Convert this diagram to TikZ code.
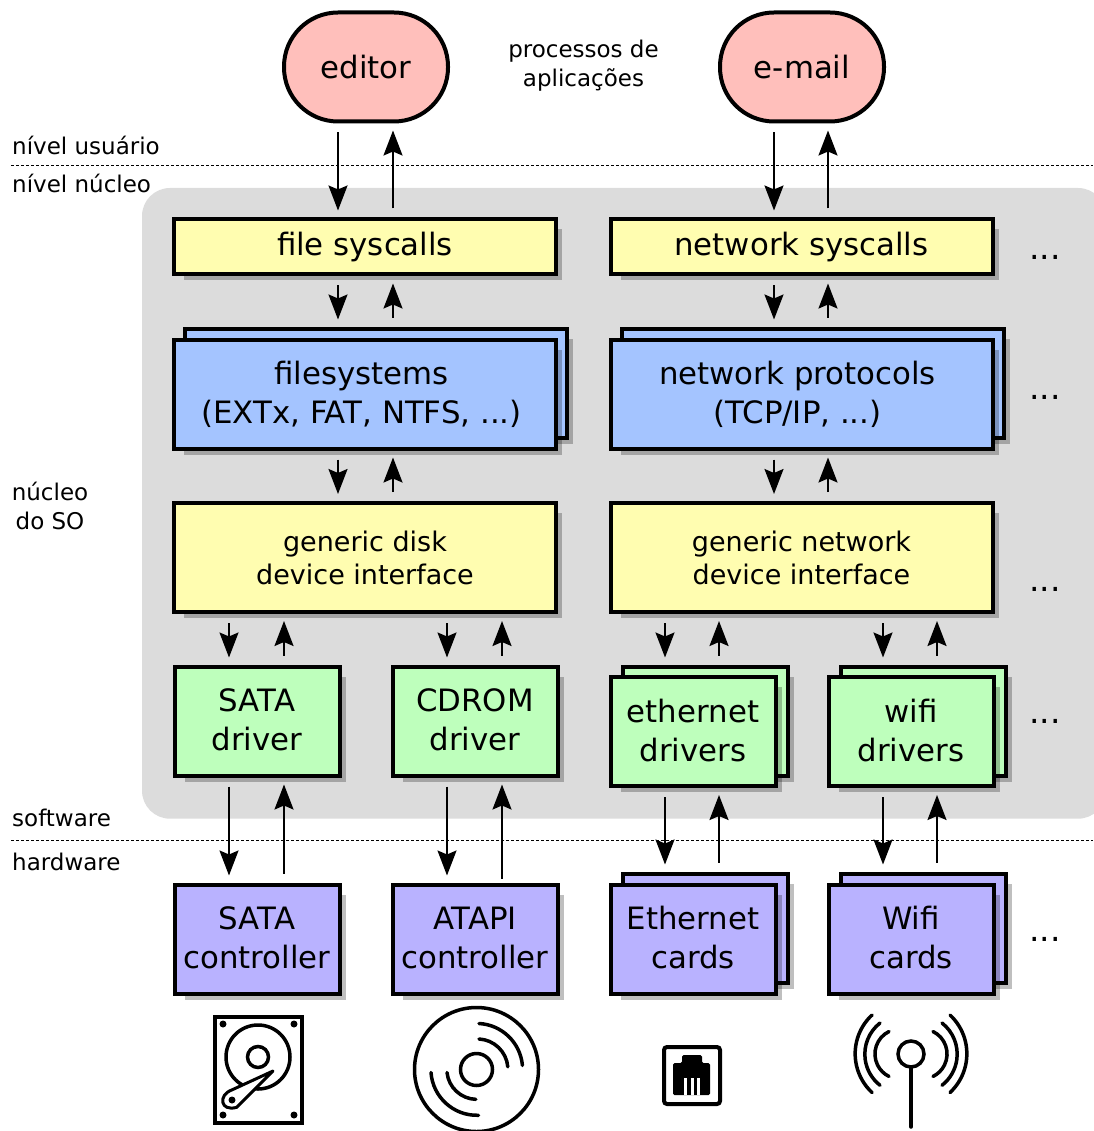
\documentclass[tikz,border=0pt]{standalone}
\usepackage{fontspec}
\setmainfont{DejaVu Sans}
\definecolor{procpink}{RGB}{255, 191, 187}
\definecolor{sysyellow}{RGB}{255, 253, 176}
\definecolor{fsblue}{RGB}{164, 196, 255}
\definecolor{drvgreen}{RGB}{190, 255, 188}
\definecolor{hwpurple}{RGB}{185, 178, 255}
\definecolor{kernelgray}{RGB}{220, 220, 220}
\usetikzlibrary{
  arrows.meta,
  backgrounds,
  positioning,
}
\tikzset{
  >={Stealth[length=25pt,width=19pt,inset=4pt]},
  flow/.style={->,line width=2,shorten <=9,shorten >=7},
  levelline/.style={line width=1,dash pattern=on 3 off 2},
  boxbase/.style={draw,rectangle,line width=4,align=center,font=\fontsize{30.8}{39}\selectfont},
  proc/.style={boxbase,rounded corners=54,minimum width=164,minimum height=109,fill=procpink},
  thin/.style={boxbase,minimum width=382,minimum height=55,fill=sysyellow},
  wide/.style={boxbase,minimum width=382,minimum height=109},
  narrow/.style={boxbase,minimum width=165,minimum height=109,text depth=3},
  boxshade/.style={fill=black,fill opacity=.25},
  lbl/.style={font=\fontsize{23}{29}\selectfont,align=center},
  more/.style={font=\fontsize{33}{36}\selectfont,anchor=base},
  icon/.style={line width=3.5,line cap=round},
}

\begin{document}
\begin{tikzpicture}[x=1pt,y=-1pt]

        \useasboundingbox (0,0) rectangle (1093,1131);

        % processes
        \node[proc]    (editor)    at (366,67)    {editor};
        \node[proc]    (email)     [right=268pt of editor]    {e-mail};

        % file column
        \node[thin,xshift=-1]    (fsys)     [below=94pt of editor.south]    {file syscalls};
        \node[wide,fill=fsblue]    (fs)     [below=61pt of fsys]    {filesystems\hspace*{7pt}\\(EXTx, FAT, NTFS, ...)\hspace*{7pt}};
        \node[wide,fill=sysyellow,font=\fontsize{27}{33}\selectfont]    (gdisk)    [below=50.5pt of fs]    {generic disk\\device interface};

        % network column
        \node[thin]    (nsys)    [right=50.5pt of fsys]    {network syscalls};
        \node[wide,fill=fsblue]    (ns)    [below=61pt of nsys]    {network protocols\hspace*{8pt}\\(TCP/IP, ...)\hspace*{8pt}};
        \node[wide,fill=sysyellow,font=\fontsize{27}{33}\selectfont]    (gnet)    [below=50.5pt of ns]    {generic network\\device interface};

        % drivers
        \node[narrow,fill=drvgreen,xshift=.5]    (sdrv)    [below=50.5pt of gdisk.south west,anchor=north west]    {SATA\\driver};
        \node[narrow,fill=drvgreen]    (cdrv)    [right=49pt of sdrv]    {CDROM\\driver};
        \node[narrow,fill=drvgreen,yshift=-10.5]    (edrv)    [right=49pt of cdrv]    {ethernet\\drivers};
        \node[narrow,fill=drvgreen]    (wdrv)    [right=49pt of edrv]    {wifi\\drivers};

        % controllers
        \node[narrow,fill=hwpurple]    (sctl)    [below=105pt of sdrv]    {SATA\\controller};
        \node[narrow,fill=hwpurple]    (actl)    [right=49pt of sctl]    {ATAPI\\controller};
        \node[narrow,fill=hwpurple]    (ectl)    [right=49pt of actl]    {Ethernet\\cards};
        \node[narrow,fill=hwpurple]    (wctl)    [right=49pt of ectl]    {Wifi\\cards};

        % kernel panel, cards behind and shades
        \begin{pgfonlayer}{background}
            \fill[kernelgray,rounded corners=28] (142,188) -- (1106,188) -- (1106,818.7) -- (142,818.7) -- cycle;

            \fill[boxshade] ([xshift=23,yshift=-1]fs.north west) rectangle ([xshift=15,yshift=7]fs.south east);
            \fill[boxshade] ([xshift=23,yshift=-1]ns.north west) rectangle ([xshift=15,yshift=7]ns.south east);
            \fill[boxshade] ([xshift=24,yshift=-1.5]edrv.north west) rectangle ([xshift=16,yshift=6.5]edrv.south east);
            \fill[boxshade] ([xshift=24,yshift=-1.5]wdrv.north west) rectangle ([xshift=16,yshift=6.5]wdrv.south east);
            \fill[boxshade] ([xshift=24,yshift=-1]ectl.north west) rectangle ([xshift=16,yshift=7]ectl.south east);
            \fill[boxshade] ([xshift=24,yshift=-1]wctl.north west) rectangle ([xshift=16,yshift=7]wctl.south east);

            \node[wide,fill=fsblue]    (fsb)    at ([xshift=11,yshift=11]fs.center)    {};
            \node[wide,fill=fsblue]    (nsb)    at ([xshift=11,yshift=11]ns.center)    {};
            \node[narrow,fill=drvgreen]    (edrvb)    at ([xshift=12,yshift=10.5]edrv.center)    {};
            \node[narrow,fill=drvgreen]    (wdrvb)    at ([xshift=12,yshift=10.5]wdrv.center)    {};
            \node[narrow,fill=hwpurple]    (ectlb)    at ([xshift=12,yshift=11]ectl.center)    {};
            \node[narrow,fill=hwpurple]    (wctlb)    at ([xshift=12,yshift=11]wctl.center)    {};

            \fill[boxshade] ([xshift=12,yshift=-12]fsys.north west) rectangle ([xshift=4,yshift=-4]fsys.south east);
            \fill[boxshade] ([xshift=12,yshift=-12]nsys.north west) rectangle ([xshift=4,yshift=-4]nsys.south east);
            \fill[boxshade] ([xshift=12,yshift=-12]fs.north west) rectangle ([xshift=4,yshift=-4]fs.south east);
            \fill[boxshade] ([xshift=12,yshift=-12]ns.north west) rectangle ([xshift=4,yshift=-4]ns.south east);
            \fill[boxshade] ([xshift=12,yshift=-12]gdisk.north west) rectangle ([xshift=4,yshift=-4]gdisk.south east);
            \fill[boxshade] ([xshift=12,yshift=-12]gnet.north west) rectangle ([xshift=4,yshift=-4]gnet.south east);
            \fill[boxshade] ([xshift=12,yshift=-12]sdrv.north west) rectangle ([xshift=4,yshift=-4]sdrv.south east);
            \fill[boxshade] ([xshift=12,yshift=-12]cdrv.north west) rectangle ([xshift=4,yshift=-4]cdrv.south east);
            \fill[boxshade] ([xshift=12,yshift=-12]edrv.north west) rectangle ([xshift=4,yshift=-4]edrv.south east);
            \fill[boxshade] ([xshift=12,yshift=-12]wdrv.north west) rectangle ([xshift=4,yshift=-4]wdrv.south east);
            \fill[boxshade] ([xshift=12,yshift=-12]sctl.north west) rectangle ([xshift=4,yshift=-4]sctl.south east);
            \fill[boxshade] ([xshift=12,yshift=-12]actl.north west) rectangle ([xshift=4,yshift=-4]actl.south east);
            \fill[boxshade] ([xshift=12,yshift=-12]ectl.north west) rectangle ([xshift=4,yshift=-4]ectl.south east);
            \fill[boxshade] ([xshift=12,yshift=-12]wctl.north west) rectangle ([xshift=4,yshift=-4]wctl.south east);
        \end{pgfonlayer}

        % level lines
        \coordinate (uleft) at (11,165.5);
        \coordinate (uright) at (1093,165.5);
        \coordinate (hleft) at (11,840.5);
        \coordinate (hright) at (1093,840.5);
        \draw[levelline] (uleft) -- (uright);
        \draw[levelline] (hleft) -- (hright);

        % connectors, file column
        \draw[flow] ([xshift=-28]editor.south) -- ([xshift=-27]fsys.north);
        \draw[flow] ([xshift=28]fsys.north) -- ([xshift=27]editor.south);
        \draw[flow] ([xshift=-27]fsys.south) -- ([xshift=-38]fsb.north);
        \draw[flow] ([xshift=17]fsb.north) -- ([xshift=28]fsys.south);
        \draw[flow] ([xshift=-27]fs.south) -- ([xshift=-27]gdisk.north);
        \draw[flow] ([xshift=28]gdisk.north) -- ([xshift=28]fs.south);
        \draw[flow] ([xshift=-136]gdisk.south) -- ([xshift=-28]sdrv.north);
        \draw[flow] ([xshift=27]sdrv.north) -- ([xshift=-81]gdisk.south);
        \draw[flow] ([xshift=82]gdisk.south) -- ([xshift=-28]cdrv.north);
        \draw[flow] ([xshift=27]cdrv.north) -- ([xshift=137]gdisk.south);
        \draw[flow] ([xshift=-28]sdrv.south) -- ([xshift=-28]sctl.north);
        \draw[flow] ([xshift=27]sctl.north) -- ([xshift=27]sdrv.south);
        \draw[flow] ([xshift=-28]cdrv.south) -- ([xshift=-28]actl.north);
        \draw[flow,shorten <=4] ([xshift=27]actl.north) -- ([xshift=27]cdrv.south);

        % connectors, network column
        \draw[flow] ([xshift=-28]email.south) -- ([xshift=-27.5]nsys.north);
        \draw[flow] ([xshift=26.5]nsys.north) -- ([xshift=26]email.south);
        \draw[flow] ([xshift=-27.5]nsys.south) -- ([xshift=-38.5]nsb.north);
        \draw[flow] ([xshift=15.5]nsb.north) -- ([xshift=26.5]nsys.south);
        \draw[flow] ([xshift=-27.5]ns.south) -- ([xshift=-27.5]gnet.north);
        \draw[flow] ([xshift=26.5]gnet.north) -- ([xshift=26.5]ns.south);
        \draw[flow] ([xshift=-136.5]gnet.south) -- ([xshift=-40]edrvb.north);
        \draw[flow] ([xshift=14]edrvb.north) -- ([xshift=-82.5]gnet.south);
        \draw[flow] ([xshift=81.5]gnet.south) -- ([xshift=-40]wdrvb.north);
        \draw[flow] ([xshift=14]wdrvb.north) -- ([xshift=135.5]gnet.south);
        \draw[flow] ([xshift=-28]edrv.south) -- ([xshift=-40]ectlb.north);
        \draw[flow] ([xshift=14]ectlb.north) -- ([xshift=26]edrv.south);
        \draw[flow] ([xshift=-28]wdrv.south) -- ([xshift=-40]wctlb.north);
        \draw[flow] ([xshift=14]wctlb.north) -- ([xshift=26]wdrv.south);

        % labels
        \node[lbl]    (lproc)    at (583.5,66)    {processos de\\aplicações};
        \node[lbl,anchor=base west,inner sep=0]    (luser)    at (12,155)    {nível usuário};
        \node[lbl,anchor=base west,inner sep=0]    (lkern)    at (12,193)    {nível núcleo};
        \node[lbl]    (lcore)    at (50,506)    {núcleo\\do SO};
        \node[lbl,anchor=base west,inner sep=0]    (lsoft)    at (12,826)    {software};
        \node[lbl,anchor=base west,inner sep=0]    (lhard)    at (12,870)    {hardware};

        \node[more]    (m0)    at (1045,260)    {...};
        \node[more]    (m1)    at (1045,399)    {...};
        \node[more]    (m2)    at (1045,591)    {...};
        \node[more]    (m3)    at (1045,723)    {...};
        \node[more]    (m4)    at (1045,941)    {...};

        % disk
        \draw[line width=4] (215,1017) rectangle (302,1123);
        \fill (223,1024) circle (3.5);
        \fill (294,1024) circle (3.5);
        \fill (223,1115) circle (3.5);
        \fill (294,1115) circle (3.5);
        \draw[icon] (258,1057) circle (32);
        \draw[icon] (258,1057) circle (10.5);
        \draw[line width=3,line join=round,fill=white] (273,1071) -- (231.7,1090) .. controls (218,1095) and (220,1112) .. (236.7,1107.3) -- cycle;
        \fill (232,1100) circle (3.5);

        % optical disc
        \draw[icon] (476.5,1069.5) circle (62);
        \draw[icon] (476.5,1069.5) circle (16);
        \draw[icon] (479,1023.5) arc (-87:-5:46);
        \draw[icon] (479,1039) arc (-87:-5:30.5);
        \draw[icon] (431,1072.5) arc (176:88:46);
        \draw[icon] (447,1072.5) arc (174:92:30);

        % network plug
        \draw[line width=4,rounded corners=3] (664,1047) rectangle (720,1104);
        \fill[rounded corners=1.5] (673,1095) -- (673,1063) -- (682,1063) -- (682,1055) -- (702,1055) -- (702,1063) -- (710,1063) -- (710,1095) -- cycle;
        \fill[white] (684,1078) rectangle (687,1095);
        \fill[white] (690.5,1078) rectangle (693.5,1095);
        \fill[white] (697,1078) rectangle (700,1095);

        % antenna
        \draw[icon] (911,1054) circle (13);
        \draw[icon] (911,1067) -- (911,1127);
        \draw[icon] (933,1031.5) arc (-64:64:25);
        \draw[icon] (942,1023) arc (-52:52:39.5);
        \draw[icon] (950,1015) arc (-47:47:53);
        \draw[icon] (889,1031.5) arc (244:116:25);
        \draw[icon] (880,1023) arc (232:128:39.5);
        \draw[icon] (872,1015) arc (227:133:53);

    \end{tikzpicture}
\end{document}
